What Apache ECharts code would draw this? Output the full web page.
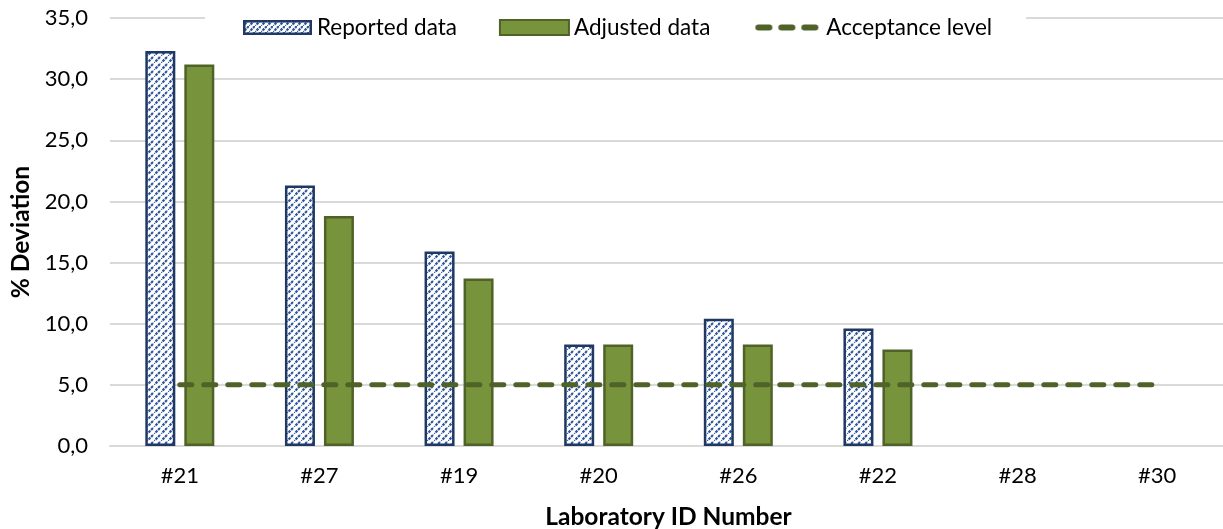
<!DOCTYPE html>
<html>
<head>
<meta charset="utf-8">
<script src="https://cdn.jsdelivr.net/npm/echarts@6/dist/echarts.min.js"></script>
<style>
  html, body { margin: 0; padding: 0; background: #fff; overflow: hidden; }
  #chart { width: 1223px; height: 529px; }
</style>
</head>
<body>
<div id="chart"></div>
<script>
// Laboratory IDs along the x axis
const labs = ['#21', '#27', '#19', '#20', '#26', '#22', '#28', '#30'];
// % deviation as reported by each laboratory
const reported = [32.3, 21.3, 15.9, 8.3, 10.4, 9.6, null, null];
// % deviation after adjustment
const adjusted = [31.2, 18.8, 13.7, 8.3, 8.3, 7.9, null, null];
// acceptance threshold, drawn across every laboratory
const acceptance = [5, 5, 5, 5, 5, 5, 5, 5];
// y axis range and step
const yMin = 0, yMax = 35, yStep = 5;

const FONT = 'Lato';
const NAVY = '#1f3864';
const GREEN = '#77933c';
const DARK_GREEN = '#4f6228';
const HATCH_BLUE = '#2f5597';

// diagonal hatch fill for the reported bars
function hatchCanvas(p) {
  const c = document.createElement('canvas');
  c.width = p; c.height = p;
  const g = c.getContext('2d');
  g.fillStyle = '#ffffff';
  g.fillRect(0, 0, p, p);
  g.strokeStyle = HATCH_BLUE;
  g.lineWidth = 2.2;
  g.setLineDash([2.6, 1]);
  g.beginPath();
  g.moveTo(-1, p + 1); g.lineTo(p + 1, -1);
  g.moveTo(-p - 1, 1); g.lineTo(1, -p - 1);
  g.moveTo(p - 1, 2 * p + 1); g.lineTo(2 * p + 1, p - 1);
  g.stroke();
  return c;
}
const hatch = hatchCanvas(7);
const hatchSmall = hatchCanvas(6);

// legend swatch for the reported series
function hatchIcon(w, h) {
  const c = document.createElement('canvas');
  c.width = w; c.height = h;
  const g = c.getContext('2d');
  g.fillStyle = g.createPattern(hatchSmall, 'repeat');
  g.fillRect(0, 0, w, h);
  g.strokeStyle = NAVY;
  g.lineWidth = 2.5;
  g.strokeRect(1.25, 1.25, w - 2.5, h - 2.5);
  return 'image://' + c.toDataURL();
}

// legend swatch for the dashed acceptance line
function dashIcon(w, h) {
  const c = document.createElement('canvas');
  c.width = w; c.height = h;
  const g = c.getContext('2d');
  g.strokeStyle = DARK_GREEN;
  g.lineWidth = 6;
  g.lineCap = 'round';
  g.beginPath();
  const seg = 11, gap = 12;
  for (let i = 0; i < 3; i++) {
    const x0 = 6 + i * (seg + gap);
    g.moveTo(x0, h / 2); g.lineTo(x0 + seg, h / 2);
  }
  g.stroke();
  return 'image://' + c.toDataURL();
}

const chart = echarts.init(document.getElementById('chart'), null, { renderer: 'canvas' });

chart.setOption({
  animation: false,
  backgroundColor: '#ffffff',
  textStyle: { fontFamily: FONT },
  grid: {
    left: 110, right: -4, top: 18, bottom: 83,
    containLabel: false,
    outerBoundsMode: 'none'
  },
  legend: {
    left: 205,
    top: 10,
    padding: [6, 34, 6, 38],
    backgroundColor: '#ffffff',
    itemWidth: 69,
    itemHeight: 15,
    itemGap: 42,
    textStyle: { fontFamily: FONT, fontSize: 22.5, color: '#000' },
    data: [
      { name: 'Reported data', icon: hatchIcon(69, 15) },
      { name: 'Adjusted data', icon: 'rect' },
      { name: 'Acceptance level', icon: dashIcon(69, 15) }
    ]
  },
  xAxis: {
    type: 'category',
    data: labs,
    name: 'Laboratory ID Number',
    nameLocation: 'middle',
    nameGap: 59,
    nameTextStyle: { fontFamily: FONT, fontSize: 24.5, fontWeight: 'bold', color: '#000' },
    axisLine: { lineStyle: { color: '#d9d9d9', width: 2 } },
    axisTick: { show: false },
    axisLabel: { fontFamily: FONT, fontSize: 22, color: '#000', margin: 19 }
  },
  yAxis: {
    type: 'value',
    min: yMin,
    max: yMax,
    interval: yStep,
    name: '% Deviation',
    nameLocation: 'middle',
    nameGap: 76,
    nameTextStyle: { fontFamily: FONT, fontSize: 24.5, fontWeight: 'bold', color: '#000' },
    axisLine: { show: false },
    axisTick: { show: false },
    axisLabel: {
      fontFamily: FONT, fontSize: 22, color: '#000', margin: 22,
      formatter: v => v.toFixed(1).replace('.', ',')
    },
    splitLine: { lineStyle: { color: '#d9d9d9', width: 2 } }
  },
  series: [
    {
      name: 'Reported data',
      type: 'bar',
      data: reported,
      barWidth: 30,
      barGap: '30%',
      itemStyle: {
        color: { image: hatch, repeat: 'repeat' },
        borderColor: NAVY,
        borderWidth: 2.5
      }
    },
    {
      name: 'Adjusted data',
      type: 'bar',
      data: adjusted,
      barWidth: 30,
      barGap: '30%',
      itemStyle: { color: GREEN, borderColor: DARK_GREEN, borderWidth: 2.5 }
    },
    {
      name: 'Acceptance level',
      type: 'line',
      data: acceptance,
      z: 5,
      symbol: 'none',
      itemStyle: { color: DARK_GREEN },
      lineStyle: { color: DARK_GREEN, width: 5, type: [12, 12], cap: 'round' }
    }
  ]
});
</script>
</body>
</html>
